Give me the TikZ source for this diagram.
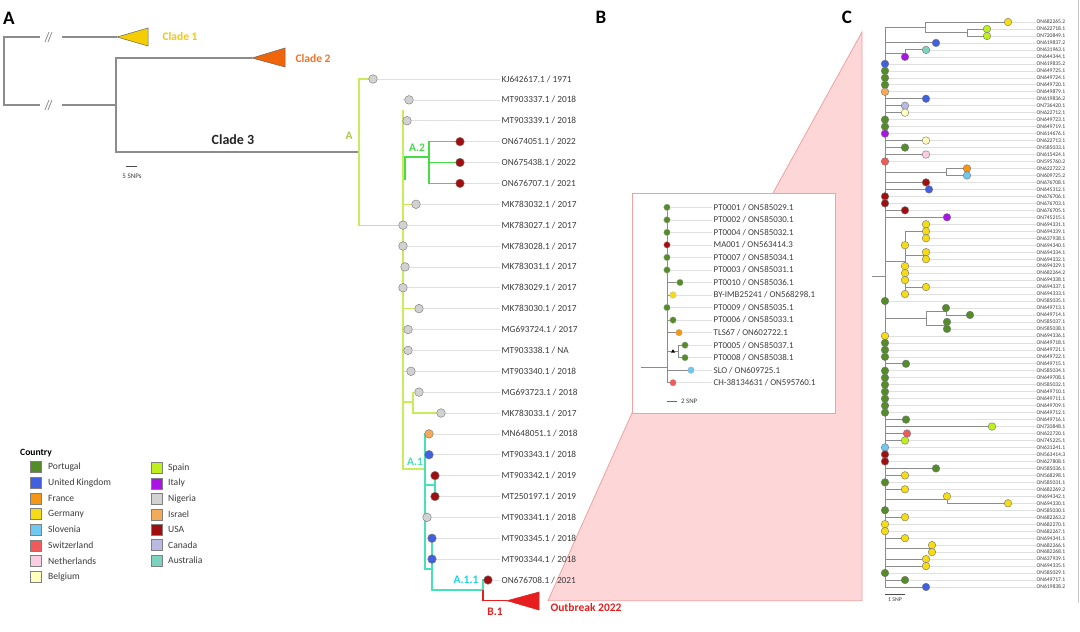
\documentclass[tikz,border=0pt]{standalone}
\usepackage{fontspec}
\setmainfont{Carlito}
\usetikzlibrary{shapes.geometric}
\definecolor{cPor}{RGB}{84,140,40}
\definecolor{cUK}{RGB}{64,96,224}
\definecolor{cFra}{RGB}{245,150,20}
\definecolor{cGer}{RGB}{245,220,20}
\definecolor{cSlo}{RGB}{110,200,240}
\definecolor{cSwi}{RGB}{240,90,90}
\definecolor{cNet}{RGB}{250,205,225}
\definecolor{cBel}{RGB}{255,255,190}
\definecolor{cSpa}{RGB}{190,240,30}
\definecolor{cIta}{RGB}{170,20,230}
\definecolor{cNig}{RGB}{210,210,210}
\definecolor{cIsr}{RGB}{245,170,90}
\definecolor{cUSA}{RGB}{160,15,15}
\definecolor{cCan}{RGB}{185,185,225}
\definecolor{cAus}{RGB}{125,210,190}
\definecolor{brgray}{RGB}{140,140,140}
\definecolor{lime}{RGB}{200,236,90}
\definecolor{agreen}{RGB}{70,220,70}
\definecolor{ateal}{RGB}{70,225,180}
\definecolor{acyan}{RGB}{20,215,235}
\definecolor{bred}{RGB}{230,30,30}
\definecolor{cl1}{RGB}{245,205,0}
\definecolor{cl1t}{RGB}{240,200,20}
\definecolor{cl2}{RGB}{240,100,10}
\definecolor{cl2t}{RGB}{240,115,40}
\definecolor{pinkf}{RGB}{253,215,215}
\definecolor{pinkd}{RGB}{240,160,160}
\definecolor{txt}{RGB}{60,60,60}
\newcommand\Ay[1]{\fpeval{79+20.875*(#1)}}
\newcommand\By[1]{\fpeval{207.3+12.53*((#1)-1)}}
\newcommand\Cy[1]{\fpeval{22+6.975*((#1)-1)}}
\tikzset{
  br/.style={draw=brgray, line width=1.1pt},
  brB/.style={draw=brgray, line width=0.8pt},
  brC/.style={draw=brgray, line width=0.9pt},
  guide/.style={draw=black!12, line width=0.6pt},
  dotA/.style={circle, minimum size=8.6pt, inner sep=0pt, draw=black!55, line width=0.4pt},
  dotB/.style={circle, minimum size=6.6pt, inner sep=0pt, draw=black!30, line width=0.3pt},
  dotC/.style={circle, minimum size=7.6pt, inner sep=0pt, draw=black!55, line width=0.4pt},
  alab/.style={anchor=west, inner sep=1.5pt, font=\fontsize{9.3}{10}\selectfont, text=txt},
  blab/.style={anchor=west, inner sep=1.5pt, font=\fontsize{8.9}{10}\selectfont, text=txt},
  clab/.style={anchor=west, inner sep=0.5pt, font=\fontsize{5.6}{6}\selectfont, text=txt},
  clabel/.style={font=\fontsize{11.5}{12}\selectfont\bfseries},
  panel/.style={font=\fontsize{19}{20}\selectfont\bfseries, text=black},
  legsq/.style={draw=black!50, line width=0.4pt, minimum size=11pt, inner sep=0pt},
  legt/.style={anchor=west, inner sep=0pt, font=\fontsize{9.6}{10}\selectfont, text=txt},
}
\begin{document}
\begin{tikzpicture}[x=1pt,y=-1pt]
\useasboundingbox (0,0) rectangle (1080,632);
\fill[white] (0,0) rectangle (1080,632);

% ---------- panel labels
\node[panel] (pA) at (9,18) {A};
\node[panel] (pB) at (601,17) {B};
\node[panel] (pC) at (847,17) {C};

% ---------- pink zoom wedge and panel B box
\filldraw[fill=pinkf, draw=pinkd, line width=0.8pt] (548,600.7) -- (632,413) -- (773,193) -- (862,32) -- (862,600.7) -- cycle;
\filldraw[fill=white, draw=pinkd, line width=0.9pt] (632,193) rectangle (835,413);
\draw[black!22, line width=0.8pt] (1078,0) -- (1078,603);

% ---------- panel A: backbone
\draw[br] (40,37) -- (4,37) -- (4,105) -- (40,105);
\draw[br] (62,37) -- (117,37);
\draw[br] (62,105) -- (116,105);
\draw[br] (252,58) -- (116,58) -- (116,152) -- (359,152);
\foreach \yy in {37,105}{
  \draw[brgray, line width=0.8pt] (45,\yy+5) -- (49,\yy-5);
  \draw[brgray, line width=0.8pt] (48,\yy+5) -- (52,\yy-5);
}
\filldraw[fill=cl1, draw=black!60, line width=0.5pt] (117,37) -- (148,28) -- (148,46) -- cycle;
\filldraw[fill=cl2, draw=black!60, line width=0.5pt] (252,58) -- (285,48) -- (285,67) -- cycle;
\node[clabel, text=cl1t, anchor=west] (t1) at (159,37) {Clade 1};
\node[clabel, text=cl2t, anchor=west] (t2) at (292,59) {Clade 2};
\node[font=\fontsize{14}{15}\selectfont\bfseries, text=black!85] (t3) at (233,140) {Clade 3};
\draw[black!70, line width=0.8pt] (126,166) -- (137,166);
\node[font=\fontsize{7}{8}\selectfont, text=txt] (s5) at (132,176) {5 SNPs};

% lineage A (lime)
\draw[lime, line width=1.1pt] (373,\Ay{0}) -- (359,\Ay{0}) -- (359,\Ay{7}) -- (403,\Ay{7});
\draw[lime, line width=1.1pt] (403,110) -- (403,469) -- (425,469);
\draw[lime, line width=1.1pt] (403,\Ay{1}) -- (409,\Ay{1});
\draw[lime, line width=1.1pt] (403,\Ay{2}) -- (407,\Ay{2});
\draw[lime, line width=1.1pt] (403,\Ay{6}) -- (416,\Ay{6});
\draw[lime, line width=1.1pt] (403,\Ay{9}) -- (405,\Ay{9});
\draw[lime, line width=1.1pt] (403,\Ay{11}) -- (419,\Ay{11});
\draw[lime, line width=1.1pt] (403,\Ay{12}) -- (408,\Ay{12});
\draw[lime, line width=1.1pt] (403,\Ay{13}) -- (408,\Ay{13});
\draw[lime, line width=1.1pt] (403,\Ay{14}) -- (411,\Ay{14});
\draw[lime, line width=1.1pt] (403,402) -- (413,402);
\draw[lime, line width=1.1pt] (419,\Ay{15}) -- (413,\Ay{15}) -- (413,\Ay{16}) -- (441,\Ay{16});
% A.2
\draw[agreen, line width=1.1pt] (405,180) -- (405,157) -- (429,157);
\draw[agreen, line width=1.1pt] (460,\Ay{3}) -- (429,\Ay{3}) -- (429,\Ay{5}) -- (460,\Ay{5});
\draw[agreen, line width=1.1pt] (429,\Ay{4}) -- (460,\Ay{4});
% A.1
\draw[ateal, line width=1.1pt] (429,\Ay{17}) -- (425,\Ay{17}) -- (425,569) -- (432,569);
\draw[ateal, line width=1.1pt] (425,\Ay{18}) -- (429,\Ay{18});
\draw[ateal, line width=1.1pt] (425,485) -- (435,485);
\draw[ateal, line width=1.1pt] (435,\Ay{19}) -- (435,\Ay{20});
\draw[ateal, line width=1.1pt] (425,\Ay{21}) -- (427,\Ay{21});
\draw[ateal, line width=1.1pt] (432,\Ay{22}) -- (432,590) -- (483,590) -- (483,\Ay{24}) -- (488,\Ay{24});
% B.1
\draw[bred, line width=1.1pt] (483,590) -- (483,600.7) -- (507,600.7);
\filldraw[fill=bred, draw=bred, line width=0.5pt] (507,600.7) -- (539,592) -- (539,610) -- cycle;
\node[clabel, text=bred, anchor=west] (tob) at (547,608) {Outbreak 2022};
\node[clabel, text=bred] (tb1) at (495,612) {B.1};
\node[clabel, text=lime!85!black] (tA) at (349,136) {A};
\node[clabel, text=agreen] (tA2) at (417,148) {A.2};
\node[clabel, text=ateal] (tA1) at (415,462) {A.1};
\node[clabel, text=acyan] (tA11) at (466,580) {A.1.1};

\foreach \r/\x/\c/\t in {
 0/373/Nig/{KJ642617.1 / 1971}, 1/409/Nig/{MT903337.1 / 2018}, 2/407/Nig/{MT903339.1 / 2018},
 3/460/USA/{ON674051.1 / 2022}, 4/460/USA/{ON675438.1 / 2022}, 5/460/USA/{ON676707.1 / 2021},
 6/416/Nig/{MK783032.1 / 2017}, 7/403/Nig/{MK783027.1 / 2017}, 8/403/Nig/{MK783028.1 / 2017},
 9/405/Nig/{MK783031.1 / 2017}, 10/403/Nig/{MK783029.1 / 2017}, 11/419/Nig/{MK783030.1 / 2017},
 12/408/Nig/{MG693724.1 / 2017}, 13/408/Nig/{MT903338.1 / NA}, 14/411/Nig/{MT903340.1 / 2018},
 15/419/Nig/{MG693723.1 / 2018}, 16/441/Nig/{MK783033.1 / 2017}, 17/429/Isr/{MN648051.1 / 2018},
 18/429/UK/{MT903343.1 / 2018}, 19/435/USA/{MT903342.1 / 2019}, 20/435/USA/{MT250197.1 / 2019},
 21/427/Nig/{MT903341.1 / 2018}, 22/432/UK/{MT903345.1 / 2018}, 23/432/UK/{MT903344.1 / 2018},
 24/488/USA/{ON676708.1 / 2021}}{
  \node[dotA, fill=c\c] (ca\r) at (\x,\Ay{\r}) {};
  \node[alab] (la\r) at (500,\Ay{\r}) {\t};
  \draw[guide] (ca\r.east) -- (la\r.west);
}

% ---------- legend
\node[anchor=west, inner sep=0pt, font=\fontsize{9.6}{10}\selectfont\bfseries] (lgT) at (20,453) {Country};
\foreach \i/\c/\t in {0/Por/Portugal, 1/UK/United Kingdom, 2/Fra/France, 3/Ger/Germany, 4/Slo/Slovenia, 5/Swi/Switzerland, 6/Net/Netherlands, 7/Bel/Belgium}{
  \node[legsq, fill=c\c] (lq\i) at (35.5,{467+15.65*\i}) {};
  \node[legt] (lt\i) at (48,{467+15.65*\i}) {\t};
}
\foreach \i/\c/\t in {0/Spa/Spain, 1/Ita/Italy, 2/Nig/Nigeria, 3/Isr/Israel, 4/USA/USA, 5/Can/Canada, 6/Aus/Australia}{
  \node[legsq, fill=c\c] (rq\i) at (156.5,{468+15.4*\i}) {};
  \node[legt] (rt\i) at (168,{468+15.4*\i}) {\t};
}

% ---------- panel B
\draw[brB] (667,\By{1}) -- (667,\By{15});
\draw[brB] (641,367.7) -- (667,367.7);
\draw[brB] (667,\By{7}) -- (680,\By{7});
\draw[brB] (667,\By{8}) -- (673,\By{8});
\draw[brB] (667,\By{10}) -- (673,\By{10});
\draw[brB] (667,\By{11}) -- (679,\By{11});
\draw[brB] (667,\By{12.5}) -- (678,\By{12.5});
\draw[brB] (685,\By{12}) -- (678,\By{12}) -- (678,\By{13}) -- (685,\By{13});
\draw[brB] (667,\By{14}) -- (691,\By{14});
\draw[brB] (667,\By{15}) -- (673,\By{15});
\node[regular polygon, regular polygon sides=3, fill=black, inner sep=0pt, minimum size=4.5pt] (tri) at (673,\By{12.5}) {};
\foreach \r/\x/\c/\t in {
 1/667/Por/{PT0001 / ON585029.1}, 2/667/Por/{PT0002 / ON585030.1}, 3/667/Por/{PT0004 / ON585032.1},
 4/667/USA/{MA001 / ON563414.3}, 5/667/Por/{PT0007 / ON585034.1}, 6/667/Por/{PT0003 / ON585031.1},
 7/680/Por/{PT0010 / ON585036.1}, 8/673/Ger/{BY-IMB25241 / ON568298.1}, 9/667/Por/{PT0009 / ON585035.1},
 10/673/Por/{PT0006 / ON585033.1}, 11/679/Fra/{TLS67 / ON602722.1}, 12/685/Por/{PT0005 / ON585037.1},
 13/685/Por/{PT0008 / ON585038.1}, 14/691/Slo/{SLO / ON609725.1}, 15/673/Swi/{CH-38134631 / ON595760.1}}{
  \node[dotB, fill=c\c] (cb\r) at (\x,\By{\r}) {};
  \node[blab] (lb\r) at (712,\By{\r}) {\t};
  \draw[guide] (cb\r.east) -- (lb\r.west);
}
\draw[black!60, line width=0.6pt] (667,401.7) -- (677,401.7);
\node[anchor=west, inner sep=0pt, font=\fontsize{6.8}{7}\selectfont, text=txt] (s2) at (681,401.7) {2 SNP};

% ---------- panel C
\draw[brC] (885,\Cy{1.75}) -- (885,\Cy{82});
\draw[brC] (872,276) -- (885,276);
\draw[brC] (885,\Cy{1.75}) -- (925,\Cy{1.75});
\draw[brC] (1008,\Cy{1}) -- (925,\Cy{1}) -- (925,\Cy{2.5}) -- (967,\Cy{2.5});
\draw[brC] (987,\Cy{2}) -- (967,\Cy{2}) -- (967,\Cy{3}) -- (987,\Cy{3});
\draw[brC] (885,\Cy{4}) -- (936,\Cy{4});
\draw[brC] (885,\Cy{5.5}) -- (905,\Cy{5.5});
\draw[brC] (926,\Cy{5}) -- (905,\Cy{5}) -- (905,\Cy{6});
\foreach \r/\x in {12/926,13/905,14/905,18/926,19/905,20/926,24/926,25/929,28/905,29/947,
  50/906,58/906,59/992,60/907,61/905,65/936,66/905,68/905,72/905,75/905,78/926,79/926,81/905,82/926}{
  \draw[brC] (885,\Cy{\r}) -- (\x,\Cy{\r});
}
\draw[brC] (885,\Cy{22.5}) -- (946,\Cy{22.5});
\draw[brC] (967,\Cy{22}) -- (946,\Cy{22}) -- (946,\Cy{23}) -- (967,\Cy{23});
\draw[brC] (885,\Cy{35.4}) -- (905,\Cy{35.4});
\draw[brC] (905,\Cy{31}) -- (905,\Cy{40});
\draw[brC] (905,\Cy{31}) -- (926,\Cy{31});
\draw[brC] (926,\Cy{30}) -- (926,\Cy{32});
\draw[brC] (905,\Cy{34.5}) -- (926,\Cy{34.5});
\draw[brC] (926,\Cy{34}) -- (926,\Cy{35});
\draw[brC] (905,\Cy{39}) -- (926,\Cy{39});
\draw[brC] (885,\Cy{43.5}) -- (926,\Cy{43.5});
\draw[brC] (926,\Cy{42.5}) -- (926,\Cy{44.5});
\draw[brC] (926,\Cy{42.5}) -- (946,\Cy{42.5});
\draw[brC] (946,\Cy{42}) -- (946,\Cy{43}) -- (970,\Cy{43});
\draw[brC] (926,\Cy{44.5}) -- (947,\Cy{44.5});
\draw[brC] (947,\Cy{44}) -- (947,\Cy{45});
\draw[brC] (885,\Cy{69.5}) -- (947,\Cy{69.5});
\draw[brC] (947,\Cy{69}) -- (947,\Cy{70}) -- (1008,\Cy{70});
\draw[brC] (885,\Cy{76.5}) -- (932,\Cy{76.5});
\draw[brC] (932,\Cy{76}) -- (932,\Cy{77});
\foreach \r/\x/\c/\t in {
 1/1008/Ger/ON682265.2, 2/987/Spa/ON622718.1, 3/987/Spa/ON720849.1, 4/936/UK/ON619837.2,
 5/926/Aus/ON631963.1, 6/905/Ita/ON644344.1, 7/885/UK/ON619835.2, 8/885/Por/ON649725.1,
 9/885/Por/ON649724.1, 10/885/Por/ON649720.1, 11/885/Isr/ON649879.1, 12/926/UK/ON619836.2,
 13/905/Can/ON736420.1, 14/905/Bel/ON622712.1, 15/885/Por/ON649723.1, 16/885/Por/ON649719.1,
 17/885/Ita/ON614676.1, 18/926/Bel/ON622713.1, 19/905/Por/ON585033.1, 20/926/Net/ON615424.1,
 21/885/Swi/ON595760.2, 22/967/Fra/ON622722.2, 23/967/Slo/ON609725.2, 24/926/USA/ON676708.1,
 25/929/UK/ON645312.1, 26/885/USA/ON676706.1, 27/885/USA/ON676703.1, 28/905/USA/ON676705.1,
 29/947/Ita/ON745215.1, 30/926/Ger/ON694331.1, 31/926/Ger/ON694339.1, 32/926/Ger/ON637938.1,
 33/905/Ger/ON694340.1, 34/926/Ger/ON694334.1, 35/926/Ger/ON694332.1, 36/905/Ger/ON694329.1,
 37/905/Ger/ON682264.2, 38/905/Ger/ON694338.1, 39/926/Ger/ON694337.1, 40/905/Ger/ON694333.1,
 41/885/Por/ON585035.1, 42/946/Por/ON649713.1, 43/970/Por/ON649714.1, 44/947/Por/ON585037.1,
 45/947/Por/ON585038.1, 46/885/Ger/ON694336.1, 47/885/Por/ON649718.1, 48/885/Por/ON649721.1,
 49/885/Por/ON649722.1, 50/906/Por/ON649715.1, 51/885/Por/ON585034.1, 52/885/Por/ON649708.1,
 53/885/Por/ON585032.1, 54/885/Por/ON649710.1, 55/885/Por/ON649711.1, 56/885/Por/ON649709.1,
 57/885/Por/ON649712.1, 58/906/Por/ON649716.1, 59/992/Spa/ON720848.1, 60/907/Swi/ON622720.1,
 61/905/Spa/ON745225.1, 62/885/Slo/ON631241.1, 63/885/USA/ON563414.3, 64/885/USA/ON627808.1,
 65/936/Por/ON585036.1, 66/905/Ger/ON568298.1, 67/885/Por/ON585031.1, 68/905/Ger/ON682269.2,
 69/947/Ger/ON694342.1, 70/1008/Ger/ON694330.1, 71/885/Por/ON585030.1, 72/905/Ger/ON682263.2,
 73/885/Ger/ON682270.1, 74/885/Ger/ON682267.1, 75/905/Ger/ON694341.1, 76/932/Ger/ON682266.1,
 77/932/Ger/ON682268.1, 78/926/Ger/ON637939.1, 79/926/Ger/ON694335.1, 80/885/Por/ON585029.1,
 81/905/Por/ON649717.1, 82/926/UK/ON619838.2}{
  \node[dotC, fill=c\c] (cc\r) at (\x,\Cy{\r}) {};
  \node[clab] (lc\r) at (1036,\Cy{\r}) {\t};
  \draw[guide] (cc\r.east) -- (lc\r.west);
}
\draw[black!70, line width=0.8pt] (885,594) -- (905,594);
\node[font=\fontsize{5.8}{6}\selectfont, text=txt] (s1) at (895,600) {1 SNP};
\end{tikzpicture}
\end{document}
